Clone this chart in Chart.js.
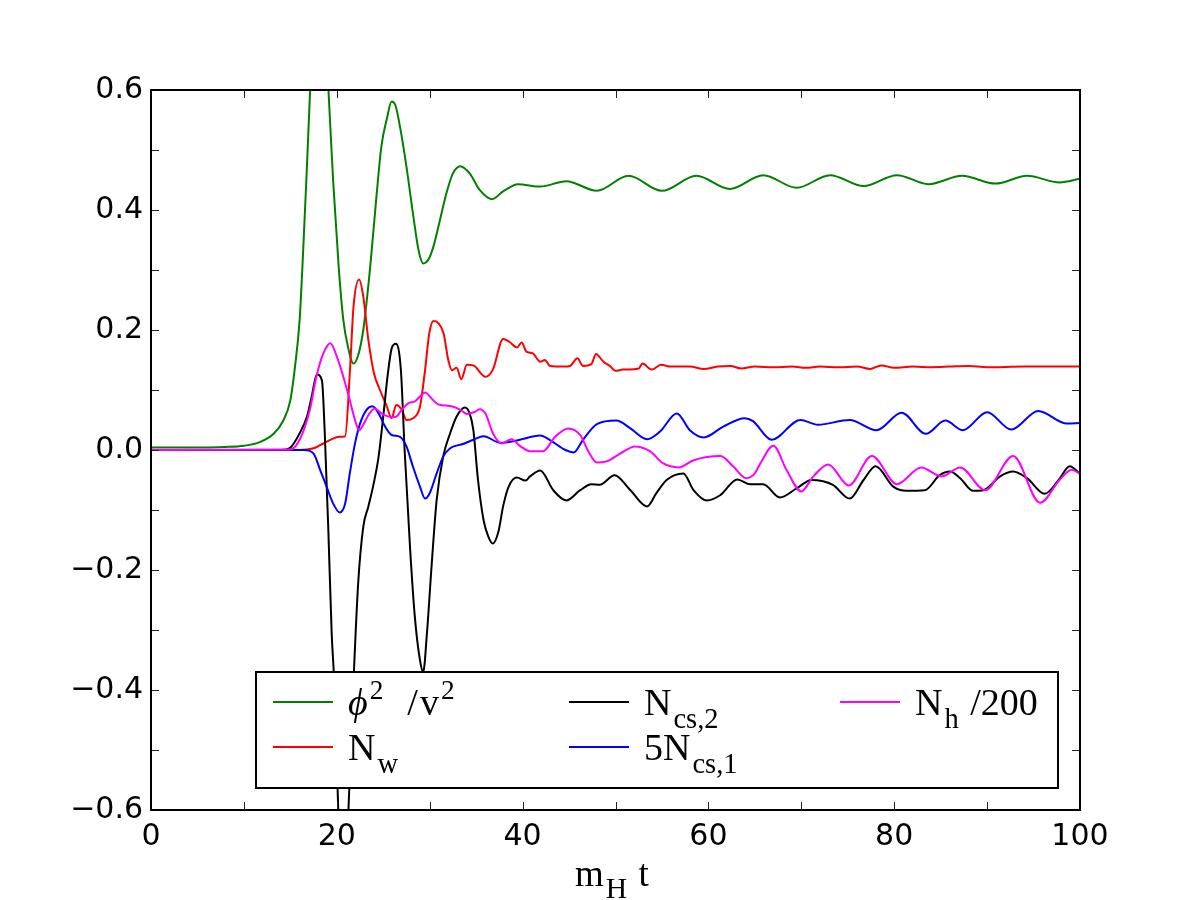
<!DOCTYPE html>
<html>
<head>
<meta charset="utf-8">
<script src="https://cdn.jsdelivr.net/npm/chart.js@4/dist/chart.umd.min.js"></script>
<style>
  html, body { margin: 0; padding: 0; background: #fff; }
  canvas { display: block; }
</style>
</head>
<body>
<canvas id="myChart" width="1200" height="900"></canvas>
<script>
// phi^2 / v^2
const tPhi = [0, 4, 8, 10, 11.7, 13.2, 14.2, 15.0, 15.5, 16.0, 16.4, 16.8, 17.2, 17.7, 18.2, 18.7, 19.1, 19.6, 20.2, 20.7, 21.2, 21.8, 22.3, 22.85, 23.6, 24.3, 24.8, 25.4, 25.9, 26.3, 26.8, 27.5, 28.2, 28.8, 29.3, 29.85, 30.4, 31.1, 31.8, 32.5, 33.3, 34.3, 35.4, 36.7, 37.9, 39.5, 41.9, 44.7, 48.0, 51.4, 55.0, 58.7, 62.3, 65.9, 69.5, 73.1, 76.7, 80.3, 83.7, 87.3, 90.9, 94.3, 97.8, 100];
const phi2 = [0.004, 0.004, 0.005, 0.007, 0.013, 0.027, 0.048, 0.083, 0.139, 0.217, 0.339, 0.478, 0.62, 0.72, 0.76, 0.70, 0.60, 0.45, 0.306, 0.217, 0.172, 0.144, 0.158, 0.2, 0.306, 0.428, 0.506, 0.553, 0.581, 0.575, 0.539, 0.472, 0.394, 0.333, 0.311, 0.317, 0.339, 0.383, 0.428, 0.461, 0.473, 0.461, 0.433, 0.418, 0.431, 0.443, 0.439, 0.448, 0.432, 0.457, 0.432, 0.457, 0.435, 0.458, 0.437, 0.458, 0.44, 0.458, 0.443, 0.457, 0.444, 0.457, 0.446, 0.452];

// N_w
const tNw = [0, 16, 17.5, 18.2, 19.3, 20.3, 20.9, 21.4, 21.8, 22.4, 22.85, 23.4, 24.0, 24.65, 25.4, 25.9, 26.4, 27.0, 27.5, 28.2, 28.95, 29.5, 29.95, 30.4, 30.9, 31.5, 32.0, 32.4, 32.9, 33.4, 34.0, 34.7, 36.0, 36.8, 37.9, 38.6, 39.4, 39.9, 40.4, 41.1, 41.9, 42.4, 42.95, 44.4, 45.1, 45.9, 46.5, 47.4, 47.9, 48.7, 49.4, 50.0, 50.8, 52.5, 52.9, 53.9, 54.9, 56, 58, 59.5, 61, 62.4, 63.5, 65, 67, 69, 70.5, 72, 74, 76, 77.4, 78.6, 80, 82, 84, 86, 88, 90, 94, 100];
const nw = [0, 0, 0.003, 0.008, 0.017, 0.022, 0.023, 0.128, 0.239, 0.284, 0.256, 0.183, 0.128, 0.1, 0.072, 0.053, 0.075, 0.067, 0.05, 0.053, 0.072, 0.133, 0.194, 0.215, 0.212, 0.194, 0.15, 0.133, 0.137, 0.118, 0.142, 0.141, 0.122, 0.134, 0.185, 0.18, 0.171, 0.179, 0.164, 0.161, 0.147, 0.15, 0.14, 0.139, 0.14, 0.153, 0.14, 0.143, 0.16, 0.147, 0.14, 0.132, 0.134, 0.136, 0.144, 0.134, 0.142, 0.139, 0.139, 0.135, 0.139, 0.14, 0.136, 0.139, 0.138, 0.139, 0.137, 0.139, 0.138, 0.139, 0.135, 0.141, 0.137, 0.139, 0.138, 0.139, 0.14, 0.138, 0.139, 0.139];

// N_cs,2
const tNcs2 = [0, 14, 15.0, 16.0, 16.8, 17.3, 17.85, 18.4, 18.7, 19.1, 19.45, 19.7, 20.2, 20.7, 21.2, 21.85, 22.3, 22.85, 23.4, 23.9, 24.5, 25.0, 25.5, 25.9, 26.35, 26.9, 27.3, 27.9, 28.4, 28.95, 29.3, 29.7, 30.2, 30.75, 31.45, 32.2, 32.9, 33.8, 34.3, 34.7, 35.2, 35.8, 36.3, 36.8, 37.4, 37.9, 38.5, 39.4, 40.3, 40.8, 41.9, 43.3, 44.7, 46.2, 47.4, 48.3, 49.9, 51.6, 53.4, 54.4, 55.5, 57.3, 58.4, 59.8, 61.3, 63.1, 64.5, 65.9, 67.7, 69.5, 71.1, 73.4, 75.2, 76.7, 78.0, 79.9, 81.3, 83.3, 84.9, 86.0, 87.1, 88.5, 89.6, 91.4, 92.8, 94.3, 96.2, 97.7, 98.9, 100];
const ncs2 = [0, 0, 0.004, 0.028, 0.056, 0.089, 0.126, 0.116, 0.03, -0.139, -0.306, -0.38, -0.62, -0.75, -0.62, -0.367, -0.222, -0.128, -0.094, -0.061, -0.011, 0.056, 0.128, 0.169, 0.177, 0.133, 0, -0.167, -0.278, -0.35, -0.37, -0.306, -0.194, -0.083, -0.011, 0.028, 0.056, 0.071, 0.061, 0.033, -0.05, -0.117, -0.144, -0.156, -0.136, -0.094, -0.061, -0.046, -0.051, -0.044, -0.034, -0.067, -0.084, -0.067, -0.057, -0.058, -0.042, -0.067, -0.094, -0.072, -0.05, -0.039, -0.067, -0.084, -0.075, -0.049, -0.057, -0.057, -0.079, -0.064, -0.05, -0.058, -0.081, -0.05, -0.027, -0.061, -0.068, -0.067, -0.042, -0.036, -0.047, -0.068, -0.067, -0.044, -0.036, -0.047, -0.073, -0.05, -0.027, -0.04];

// 5 N_cs,1
const tNcs1 = [0, 16.5, 17.5, 18.2, 18.9, 19.6, 20.3, 20.9, 21.4, 21.96, 22.5, 23.2, 23.85, 24.5, 25.2, 25.9, 26.8, 27.5, 28.2, 28.95, 29.5, 30.0, 30.75, 31.45, 32.2, 33.6, 34.7, 35.8, 37.6, 39.4, 41.9, 42.9, 44.6, 45.5, 46.5, 48.0, 50.1, 51.6, 53.4, 54.8, 56.6, 58.0, 59.5, 61.6, 63.9, 64.8, 66.8, 69.9, 71.8, 75.2, 78.1, 80.8, 83.4, 85.5, 87.4, 90.0, 92.6, 95.5, 98.6, 100];
const ncs1x5 = [0, 0, -0.006, -0.033, -0.061, -0.089, -0.104, -0.089, -0.039, 0.011, 0.044, 0.067, 0.073, 0.061, 0.039, 0.025, 0.022, 0.006, -0.028, -0.061, -0.081, -0.072, -0.039, -0.011, 0.003, 0.01, 0.017, 0.023, 0.012, 0.016, 0.024, 0.017, 0.0, -0.004, 0.017, 0.043, 0.049, 0.036, 0.018, 0.031, 0.061, 0.033, 0.021, 0.039, 0.053, 0.048, 0.017, 0.05, 0.042, 0.05, 0.033, 0.062, 0.027, 0.049, 0.033, 0.063, 0.034, 0.065, 0.044, 0.045];

// N_h / 200
const tNh = [0, 15, 16.0, 17.1, 17.8, 18.55, 19.3, 20.0, 20.7, 21.4, 21.96, 22.4, 22.85, 23.4, 24.1, 24.8, 25.5, 26.3, 27.0, 27.7, 28.4, 28.95, 29.5, 30.2, 30.9, 31.8, 32.55, 33.4, 34.0, 34.9, 35.4, 36.0, 36.8, 37.75, 38.8, 39.7, 40.8, 42.2, 43.5, 44.9, 46.2, 47.1, 48.0, 49.05, 50.5, 52.1, 53.7, 55.1, 56.8, 58.4, 61.3, 62.7, 64.1, 65.0, 65.6, 67.0, 68.4, 70.0, 71.3, 72.9, 75.1, 77.6, 80.3, 82.9, 85.1, 87.1, 89.8, 92.8, 95.7, 97.8, 99.1, 100];
const nh = [0, 0.001, 0.017, 0.067, 0.122, 0.161, 0.178, 0.156, 0.122, 0.083, 0.05, 0.033, 0.042, 0.058, 0.069, 0.061, 0.056, 0.055, 0.067, 0.078, 0.081, 0.089, 0.096, 0.086, 0.076, 0.074, 0.072, 0.066, 0.06, 0.064, 0.068, 0.061, 0.028, 0.011, 0.018, 0.007, -0.002, -0.002, 0.022, 0.036, 0.025, -0.003, -0.021, -0.019, -0.006, 0.006, -0.002, -0.022, -0.029, -0.017, -0.01, -0.028, -0.047, -0.039, -0.022, 0.007, -0.033, -0.069, -0.044, -0.024, -0.059, -0.01, -0.057, -0.029, -0.044, -0.029, -0.067, -0.01, -0.088, -0.05, -0.033, -0.04];

const xTicks = [0, 10, 20, 30, 40, 50, 60, 70, 80, 90, 100];
const yTicks = [-0.6, -0.5, -0.4, -0.3, -0.2, -0.1, 0, 0.1, 0.2, 0.3, 0.4, 0.5, 0.6];

const series = [
  { t: tPhi, v: phi2, color: "#008000" },
  { t: tNw, v: nw, color: "#ff0000" },
  { t: tNcs2, v: ncs2, color: "#000000" },
  { t: tNcs1, v: ncs1x5, color: "#0000ff" },
  { t: tNh, v: nh, color: "#ff00ff" }
];

const SERIF = "'Liberation Serif', 'DejaVu Serif', serif";

// legend entries, matplotlib ncol=3 order
const legendItems = [
  { col: 0, row: 0, color: "#008000", parts: [["\u03d5", "i"], ["2", "sup"], ["  /", "n"], ["v", "n"], ["2", "sup"]] },
  { col: 0, row: 1, color: "#ff0000", parts: [["N", "n"], ["w", "sub"]] },
  { col: 1, row: 0, color: "#000000", parts: [["N", "n"], ["cs,2", "sub"]] },
  { col: 1, row: 1, color: "#0000ff", parts: [["5N", "n"], ["cs,1", "sub"]] },
  { col: 2, row: 0, color: "#ff00ff", parts: [["N", "n"], ["h", "sub"], [" /200", "n"]] }
];

function drawParts(ctx, x, y, parts, size, subScale) {
  ctx.textBaseline = "alphabetic";
  ctx.textAlign = "left";
  parts.forEach(function (p) {
    const kind = p[1];
    let fs = size, dy = 0, style = "";
    if (kind === "sup") { fs = size * 0.72; dy = -size * 0.42; }
    if (kind === "sub") { fs = size * subScale; dy = size * 0.33; }
    if (kind === "i") { style = "italic "; }
    ctx.font = style + fs + "px " + SERIF;
    ctx.fillText(p[0], x, y + dy);
    x += ctx.measureText(p[0]).width + (kind === "sup" ? 5 : 2);
  });
}

const framePlugin = {
  id: "frame",
  afterDatasetsDraw(chart) {
    const ctx = chart.ctx;
    const area = chart.chartArea;
    const xs = chart.scales.x;
    const ys = chart.scales.y;

    // legend box
    const box = { l: 256, t: 672, r: 1058, b: 788 };
    ctx.save();
    ctx.fillStyle = "#fff";
    ctx.fillRect(box.l, box.t, box.r - box.l, box.b - box.t);
    ctx.strokeStyle = "#000";
    ctx.lineWidth = 2;
    ctx.strokeRect(box.l, box.t, box.r - box.l, box.b - box.t);
    const colX = [273, 569, 840];
    const rowY = [702, 747];
    legendItems.forEach(function (it) {
      const lx = colX[it.col], ly = rowY[it.row];
      ctx.strokeStyle = it.color;
      ctx.lineWidth = 2;
      ctx.beginPath();
      ctx.moveTo(lx, ly);
      ctx.lineTo(lx + 60, ly);
      ctx.stroke();
      ctx.fillStyle = "#000";
      drawParts(ctx, lx + 75, ly + 13, it.parts, 38, 0.75);
    });

    // inward ticks on all sides
    ctx.strokeStyle = "#222";
    ctx.lineWidth = 1;
    ctx.beginPath();
    xTicks.forEach(function (v) {
      const px = Math.round(xs.getPixelForValue(v)) + 0.5;
      ctx.moveTo(px, area.bottom); ctx.lineTo(px, area.bottom - 8);
      ctx.moveTo(px, area.top); ctx.lineTo(px, area.top + 8);
    });
    yTicks.forEach(function (v) {
      const py = Math.round(ys.getPixelForValue(v)) + 0.5;
      ctx.moveTo(area.left, py); ctx.lineTo(area.left + 8, py);
      ctx.moveTo(area.right, py); ctx.lineTo(area.right - 8, py);
    });
    ctx.stroke();

    // frame
    ctx.strokeStyle = "#000";
    ctx.lineWidth = 2;
    ctx.strokeRect(area.left, area.top, area.right - area.left, area.bottom - area.top);

    // x axis title m_H t
    ctx.fillStyle = "#000";
    drawParts(ctx, 575, 886, [["m", "n"], ["H", "sub"], [" t", "n"]], 37, 0.8);
    ctx.restore();
  }
};

const data = {
  datasets: series.map(function (s, i) {
    return {
      data: s.t.map(function (t, j) { return { x: t, y: s.v[j] }; }),
      borderColor: s.color,
      borderWidth: 2,
      pointRadius: 0,
      fill: false,
      cubicInterpolationMode: "monotone",
      order: series.length - i
    };
  })
};

const config = {
  type: "line",
  data,
  options: {
    responsive: false,
    animation: false,
    devicePixelRatio: 1,
    layout: { padding: { left: 0, top: 90, right: 120, bottom: 0 } },
    plugins: {
      legend: { display: false },
      tooltip: { enabled: false }
    },
    scales: {
      x: {
        type: "linear",
        min: 0,
        max: 100,
        grid: { display: false, drawTicks: false },
        border: { display: false },
        ticks: {
          stepSize: 10,
          autoSkip: false,
          maxRotation: 0,
          padding: 9,
          color: "#000",
          font: { family: "'DejaVu Sans'", size: 30 },
          callback: function (val) {
            return Math.round(val) % 20 === 0 ? String(Math.round(val)) : "";
          }
        },
        afterFit: function (scale) { scale.height = 90; }
      },
      y: {
        type: "linear",
        min: -0.6,
        max: 0.6,
        grid: { display: false, drawTicks: false },
        border: { display: false },
        ticks: {
          stepSize: 0.1,
          autoSkip: false,
          padding: 8,
          color: "#000",
          font: { family: "'DejaVu Sans'", size: 30 },
          callback: function (val) {
            const k = Math.round(val * 10);
            if (k % 2 !== 0) return "";
            return (k < 0 ? "\u2212" : "") + Math.abs(k / 10).toFixed(1);
          }
        },
        afterFit: function (scale) { scale.width = 151; }
      }
    }
  },
  plugins: [framePlugin]
};

const ctx = document.getElementById("myChart").getContext("2d");
new Chart(ctx, config);
</script>
</body>
</html>
